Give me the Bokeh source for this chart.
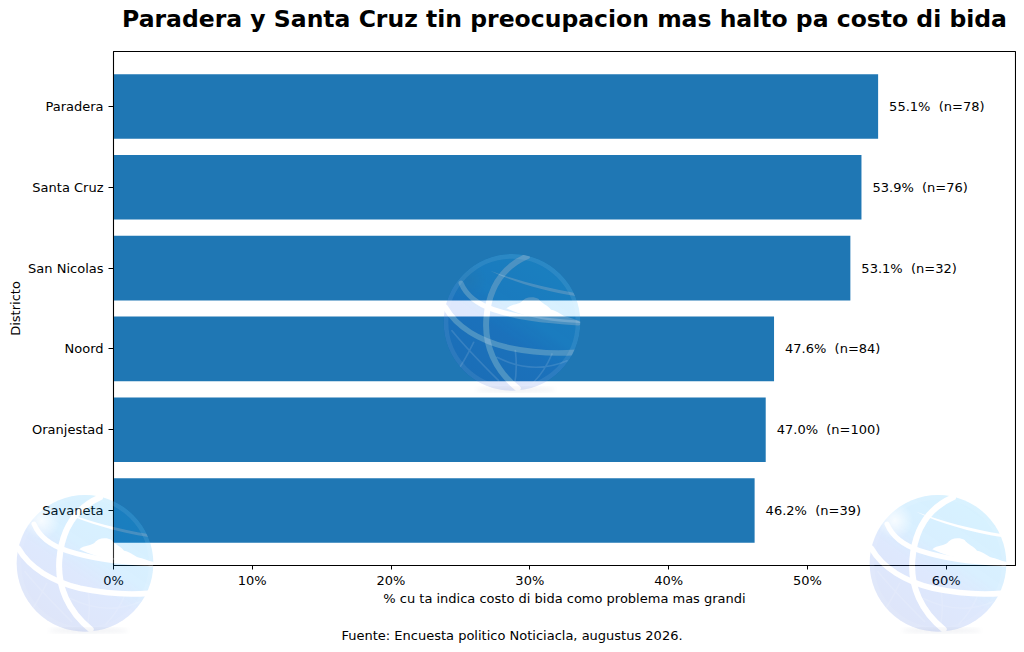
from bokeh.plotting import figure
from bokeh.core.properties import value
from bokeh.models import ColumnDataSource, FixedTicker, FactorRange, Range1d, Title, Div, LabelSet
from bokeh.embed import file_html
from bokeh.resources import INLINE

districts = ["Paradera", "Santa Cruz", "San Nicolas", "Noord", "Oranjestad", "Savaneta"]
shares = [55.1, 53.9, 53.1, 47.6, 47.0, 46.2]
counts = [78, 76, 32, 84, 100, 39]
x_ticks = [0, 10, 20, 30, 40, 50, 60]
x_tick_labels = {t: f"{t}%" for t in x_ticks}
title_text = "Paradera y Santa Cruz tin preocupacion mas halto pa costo di bida"
x_label = "% cu ta indica costo di bida como problema mas grandi"
y_label = "Districto"
source_note = "Fuente: Encuesta politico Noticiacla, augustus 2026."
FONT = "DejaVu Sans"

src = ColumnDataSource(dict(
    d=districts, v=shares,
    lab=[f"{v:.1f}% \u00a0(n={n})" for v, n in zip(shares, counts)],
))

p = figure(frame_width=902, frame_height=514, output_backend="svg", toolbar_location=None,
           x_range=Range1d(0, 65),
           y_range=FactorRange(factors=districts[::-1], range_padding=0.18, range_padding_units="absolute"),
           min_border_left=0, min_border_right=1, min_border_top=0, min_border_bottom=0,
           margin=(-17, 0, 0, 5),
           background_fill_color="white", border_fill_color="white")
p.hbar(y="d", right="v", left=0, height=0.8, source=src, color="#1f77b4", line_color=None)
p.add_layout(LabelSet(x="v", y="d", text="lab", source=src, x_offset=11, y_offset=0,
                      text_baseline="middle", text_font=value(FONT), text_font_size="13px", text_color="black"))

p.grid.visible = False
p.outline_line_color = "black"
p.outline_line_width = 1.1
p.title.text = title_text
p.title.text_font = FONT
p.title.text_font_size = "23.5px"
p.title.text_font_style = "bold"
p.title.align = "center"
p.title.text_color = "black"
p.title.offset = 0
p.title.standoff = 38

for ax in (p.xaxis[0], p.yaxis[0]):
    ax.axis_line_color = "black"
    ax.major_tick_line_color = "black"
    ax.major_tick_in = 0
    ax.minor_tick_line_color = None
    ax.major_label_text_font = FONT
    ax.major_label_text_font_size = "13px"
    ax.major_label_text_color = "black"
    ax.axis_label_text_font = FONT
    ax.axis_label_text_font_size = "13px"
    ax.axis_label_text_font_style = "normal"
    ax.axis_label_text_color = "black"

p.xaxis[0].ticker = FixedTicker(ticks=x_ticks)
p.xaxis[0].major_label_overrides = x_tick_labels
p.xaxis[0].axis_label = x_label
p.xaxis[0].major_tick_out = 4
p.xaxis[0].major_label_standoff = 3
p.xaxis[0].axis_label_standoff = 0
p.yaxis[0].axis_label = y_label
p.yaxis[0].major_tick_out = 5
p.yaxis[0].major_label_standoff = 5
p.yaxis[0].axis_label_standoff = 2

p.add_layout(Title(text=source_note, align="left", offset=228, standoff=34, text_font=FONT,
                   text_font_size="13px", text_font_style="normal", text_color="black"), "below")

# Decorative globe watermark drawn on top of the chart.
# Shape coordinates are in the globe's own space: centre (255,250), radius 205.
MERIDIAN = "M300 52 C225 85 185 150 178 240 C172 320 205 395 272 448"
LAT_UP = "M102 132 C118 170 150 195 200 212 C270 235 340 245 455 252"
LAT_LOW = "M55 205 C90 265 160 305 240 325 C310 340 380 345 445 340"
THIN = "M190 95 C260 130 350 155 450 172 L445 162 C360 148 270 125 190 95 Z"
CLOUD = ("M238 208 C255 195 270 198 282 190 C292 174 318 170 335 180 C345 195 362 198 372 212 "
         "C392 215 405 232 425 235 C440 240 455 245 462 252 C380 250 300 238 238 208 Z")
MESH = ("M75 275 C120 330 170 380 215 425 M140 310 C120 350 105 380 90 395 M265 335 C270 375 268 410 262 440 "
        "M375 345 C360 380 340 410 318 432 M210 355 C280 390 350 395 420 365")

globe_defs = f"""
<defs>
<linearGradient id="gl" x1="0.8" y1="0.1" x2="0.25" y2="0.9">
<stop offset="0" stop-color="rgb(0,170,255)" stop-opacity="0.16"/>
<stop offset="0.42" stop-color="rgb(0,150,255)" stop-opacity="0.15"/>
<stop offset="0.62" stop-color="rgb(0,80,240)" stop-opacity="0.13"/>
<stop offset="1" stop-color="rgb(0,55,210)" stop-opacity="0.13"/>
</linearGradient>
<radialGradient id="glow">
<stop offset="0" stop-color="#000" stop-opacity="0.8"/>
<stop offset="1" stop-color="#000" stop-opacity="0"/>
</radialGradient>
<filter id="soft"><feGaussianBlur stdDeviation="6"/></filter>
<mask id="holes" maskUnits="userSpaceOnUse" x="0" y="0" width="520" height="500">
<rect width="520" height="500" fill="white"/>
<circle cx="125" cy="122" r="55" fill="url(#glow)"/>
<g fill="none" stroke="black" stroke-linecap="round">
<path d="{MERIDIAN}" stroke-width="18"/>
<path d="{LAT_UP}" stroke-width="15"/>
<path d="{LAT_LOW}" stroke-width="17"/>
</g>
<path d="{THIN}" fill="black"/>
<path d="{CLOUD}" fill="black"/>
</mask>
<clipPath id="disc"><circle cx="255" cy="250" r="205"/></clipPath>
<g id="globe">
<ellipse cx="265" cy="452" rx="120" ry="8" fill="rgb(120,130,160)" opacity="0.10" filter="url(#soft)"/>
<circle cx="255" cy="250" r="205" fill="url(#gl)" mask="url(#holes)"/>
<g clip-path="url(#disc)">
<circle cx="255" cy="250" r="198" fill="none" stroke="white" stroke-opacity="0.08" stroke-width="14"/>
<g fill="none" stroke="white" stroke-opacity="0.2" stroke-linecap="round">
<path d="{MERIDIAN}" stroke-width="18"/>
<path d="{LAT_UP}" stroke-width="15"/>
<path d="{LAT_LOW}" stroke-width="17"/>
<path d="{MESH}" stroke-width="5" stroke-opacity="0.12"/>
</g>
<path d="{CLOUD}" fill="white" fill-opacity="0.2"/>
<path d="{THIN}" fill="white" fill-opacity="0.18"/>
</g>
</g>
</defs>
"""
placements = [(0, 480), (853, 480), (427, 239)]
uses = "".join(
    f'<use href="#globe" transform="translate({x} {y}) scale(0.3333)"/>' for x, y in placements
)
globes_svg = (f'<svg xmlns="http://www.w3.org/2000/svg" width="1024" height="652" viewBox="0 0 1024 652" '
              f'style="position:absolute;left:-5px;top:17px;pointer-events:none;overflow:visible">'
              f'{globe_defs}{uses}</svg>')
overlay = Div(text=globes_svg, width=0, height=0,
              styles={"position": "absolute", "left": "0px", "top": "0px", "z-index": "10", "pointer-events": "none"})
p.elements = [overlay]

open("out.html", "w").write(file_html(p, INLINE))
